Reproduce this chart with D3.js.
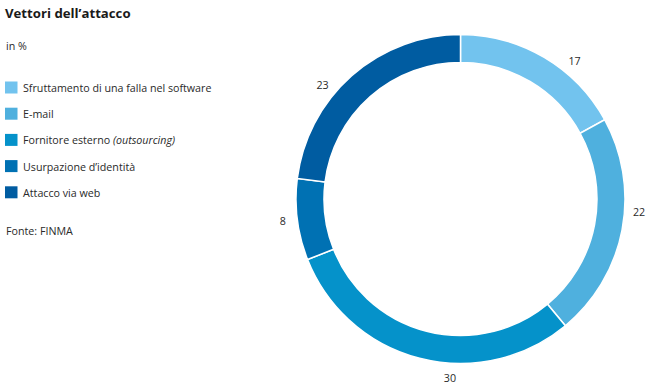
<!DOCTYPE html>
<html>
<head>
<meta charset="utf-8">
<script src="https://cdn.jsdelivr.net/npm/d3@7"></script>
<style>
  html, body { margin: 0; padding: 0; background: #fff; }
  svg { display: block; font-family: "Open Sans", "Noto Sans", sans-serif; }
</style>
</head>
<body>
<svg id="chart" width="650" height="387"></svg>
<script>
// ---- data ----
const categories = [
  "Sfruttamento di una falla nel software",
  "E-mail",
  "Fornitore esterno",
  "Usurpazione d\u2019identità",
  "Attacco via web"
];
const values = [17, 22, 30, 8, 23];
const colors = ["#72c3ee", "#4fb0de", "#0592ca", "#0071b3", "#005ca1"];
// label placement nudges (degrees) to follow original label positions
const labelNudge = [9, -6.5, -11, 0, -9];

const svg = d3.select("#chart");

// ---- title ----
svg.append("text")
  .attr("x", 5).attr("y", 17.5)
  .attr("font-size", 13.2).attr("font-weight", 700)
  .attr("fill", "#1a1a1a")
  .text("Vettori dell\u2019attacco");

svg.append("text")
  .attr("x", 6).attr("y", 49.5)
  .attr("font-size", 10.7).attr("fill", "#2a2a2a")
  .text("in %");

// ---- legend ----
const legend = svg.append("g").attr("transform", "translate(5,81.5)");
const rows = legend.selectAll("g").data(categories).join("g")
  .attr("transform", (d, i) => `translate(0,${i * 26.2})`);
rows.append("rect")
  .attr("width", 12.5).attr("height", 12)
  .attr("fill", (d, i) => colors[i]);
const lt = rows.append("text")
  .attr("x", 18).attr("y", 10.5)
  .attr("font-size", 10.7).attr("fill", "#2a2a2a");
lt.append("tspan").text(d => d);
lt.filter((d, i) => i === 2).append("tspan")
  .attr("font-style", "italic").text(" (outsourcing)");

svg.append("text")
  .attr("x", 6).attr("y", 235)
  .attr("font-size", 10.7).attr("fill", "#2a2a2a")
  .text("Fonte: FINMA");

// ---- donut ----
const cx = 460.5, cy = 199, rOuter = 164.5, rInner = 136.5, rLabel = 179;
const pie = d3.pie().sort(null).value(d => d);
const arcs = pie(values);
const arc = d3.arc().innerRadius(rInner).outerRadius(rOuter);

const g = svg.append("g").attr("transform", `translate(${cx},${cy})`);
g.selectAll("path").data(arcs).join("path")
  .attr("d", arc)
  .attr("fill", (d, i) => colors[i])
  .attr("stroke", "#fff")
  .attr("stroke-width", 1.5);

g.selectAll("text.lbl").data(arcs).join("text")
  .attr("class", "lbl")
  .attr("transform", (d, i) => {
    const a = (d.startAngle + d.endAngle) / 2 + labelNudge[i] * Math.PI / 180;
    return `translate(${Math.sin(a) * rLabel},${-Math.cos(a) * rLabel})`;
  })
  .attr("text-anchor", "middle")
  .attr("dy", "0.36em")
  .attr("font-size", 10.7).attr("fill", "#2a2a2a")
  .text(d => d.data);
</script>
</body>
</html>
